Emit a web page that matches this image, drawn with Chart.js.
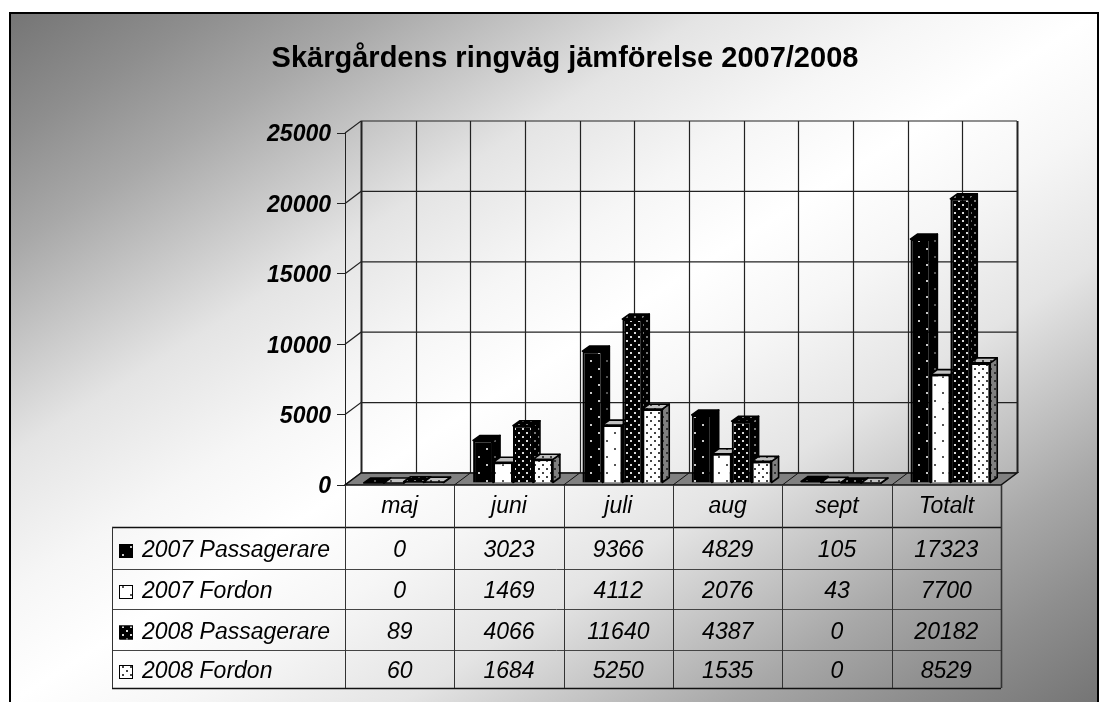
<!DOCTYPE html>
<html>
<head>
<meta charset="utf-8">
<style>
html,body{margin:0;padding:0;background:#fff;overflow:hidden;width:1105px;height:702px}
#frame{position:absolute;left:9px;top:12px;width:1086px;height:688px;border:2px solid #000;
background:linear-gradient(to bottom right,#757575 0%,#8e8e8e 9%,#a8a8a8 17%,#bcbcbc 22%,#e4e4e4 32%,#f6f6f6 42%,#ffffff 50%,#f6f6f6 58%,#e4e4e4 68%,#bcbcbc 78%,#a8a8a8 83%,#8e8e8e 91%,#757575 100%)}
#wrap{position:absolute;left:0;top:0;width:1105px;height:702px}
canvas{display:block}
</style>
<script src="https://cdn.jsdelivr.net/npm/chart.js@4"></script>
</head>
<body>
<div id="frame"></div>
<div id="wrap"><canvas id="c" width="1105" height="702"></canvas></div>
<script>
const titleText = 'Skärgårdens ringväg jämförelse 2007/2008';
const categories = ['maj','juni','juli','aug','sept','Totalt'];
const seriesNames = ['2007 Passagerare','2007 Fordon','2008 Passagerare','2008 Fordon'];
const pass2007 = [0,3023,9366,4829,105,17323];
const ford2007 = [0,1469,4112,2076,43,7700];
const pass2008 = [89,4066,11640,4387,0,20182];
const ford2008 = [60,1684,5250,1535,0,8529];
const allSeries = [pass2007,ford2007,pass2008,ford2008];

const FONT = '"Liberation Sans", Arial, sans-serif';
Chart.defaults.font.family = FONT;
Chart.defaults.color = '#000';

function dots(size,bg,dot,r){
  const t=document.createElement('canvas');t.width=t.height=size;
  const g=t.getContext('2d');g.fillStyle=bg;g.fillRect(0,0,size,size);
  g.fillStyle=dot;
  g.fillRect(2,2,r,r);g.fillRect(2+size/2,2+size/2,r,r);
  return document.createElement('canvas').getContext('2d').createPattern(t,'repeat');
}
const faces=[
 {front:dots(16,'#000','#c8c8c8',2),side:dots(16,'#000','#555',2),top:dots(16,'#000','#555',2)},
 {front:dots(16,'#fff','#555',2),side:dots(16,'#808080','#333',2),top:dots(16,'#c0c0c0','#555',2)},
 {front:dots(8,'#000','#d8d8d8',2),side:dots(8,'#000','#777',2),top:dots(8,'#000','#777',2)},
 {front:dots(8,'#fff','#444',2),side:dots(8,'#808080','#333',2),top:dots(8,'#c0c0c0','#444',2)}
];
const WALL_DX=16, WALL_DY=12, BAR_DX=7, BAR_DY=5, SHIFT_X=4, SHIFT_Y=-2;

const wallPlugin={
 id:'wall',
 beforeDatasetsDraw(chart){
  const {ctx,chartArea:a,scales:{y}}=chart;
  ctx.save();
  ctx.strokeStyle='#222';ctx.lineWidth=1.2;
  y.ticks.forEach(t=>{
    const py=y.getPixelForValue(t.value);
    ctx.beginPath();ctx.moveTo(a.left,py);ctx.lineTo(a.left+WALL_DX,py-WALL_DY);ctx.lineTo(a.right+WALL_DX,py-WALL_DY);ctx.stroke();
  });
  const top=a.top-WALL_DY, bot=a.bottom-WALL_DY, n=categories.length;
  for(let i=0;i<=n*2;i++){
    const px=Math.round(a.left+(a.right-a.left)*i/(n*2)+WALL_DX)+.5;
    ctx.lineWidth=(i===0||i===n*2)?2:1.2;
    ctx.beginPath();ctx.moveTo(px,top);ctx.lineTo(px,bot);ctx.stroke();
  }
  ctx.lineWidth=1.5;ctx.strokeStyle='#111';ctx.fillStyle='#808080';
  ctx.beginPath();ctx.moveTo(a.left,a.bottom);ctx.lineTo(a.right,a.bottom);
  ctx.lineTo(a.right+WALL_DX,bot);ctx.lineTo(a.left+WALL_DX,bot);ctx.closePath();ctx.fill();ctx.stroke();
  for(let i=1;i<n;i++){
    const px=a.left+(a.right-a.left)*i/n;
    ctx.lineWidth=1;ctx.beginPath();ctx.moveTo(px,a.bottom);ctx.lineTo(px+WALL_DX,bot);ctx.stroke();
  }
  ctx.restore();
 }
};

const depthPlugin={
 id:'depth',
 beforeDatasetsDraw(chart){
  const ctx=chart.ctx;
  seriesNames.forEach((_,s)=>{
    const meta=chart.getDatasetMeta(s),f=faces[s];
    ctx.save();ctx.translate(SHIFT_X,SHIFT_Y);
    ctx.strokeStyle='#000';ctx.lineWidth=1.6;ctx.lineJoin='round';
    meta.data.forEach(b=>{
      const l=b.x-b.width/2,r=b.x+b.width/2,t=b.y,bs=b.base;
      ctx.fillStyle=f.side;ctx.beginPath();ctx.moveTo(r,t);ctx.lineTo(r+BAR_DX,t-BAR_DY);ctx.lineTo(r+BAR_DX,bs-BAR_DY);ctx.lineTo(r,bs);ctx.closePath();ctx.fill();ctx.stroke();
      ctx.fillStyle=f.top;ctx.beginPath();ctx.moveTo(l,t);ctx.lineTo(l+BAR_DX,t-BAR_DY);ctx.lineTo(r+BAR_DX,t-BAR_DY);ctx.lineTo(r,t);ctx.closePath();ctx.fill();ctx.stroke();
    });
    meta.controller.draw();
    ctx.restore();
  });
  return false;
 }
};

const tablePlugin={
 id:'table',
 afterDraw(chart){
  const {ctx,chartArea:a,scales:{x}}=chart;
  const rows=[527,569,609,650,688], tableLeft=112, n=categories.length;
  ctx.save();
  rows.forEach((ry,i)=>{
    ctx.lineWidth=(i===0||i===rows.length-1)?1.5:1;
    ctx.strokeStyle=(i===0||i===rows.length-1)?'#111':'#444';
    ctx.beginPath();ctx.moveTo(tableLeft,ry+.5);ctx.lineTo(a.right,ry+.5);ctx.stroke();
  });
  ctx.strokeStyle='#333';ctx.lineWidth=1;
  ctx.beginPath();ctx.moveTo(tableLeft+.5,rows[0]);ctx.lineTo(tableLeft+.5,rows[4]);ctx.stroke();
  for(let i=0;i<=n;i++){
    const px=Math.round(a.left+(a.right-a.left)*i/n)+.5;
    ctx.lineWidth=i===n?1.6:1;
    ctx.beginPath();ctx.moveTo(px,a.bottom);ctx.lineTo(px,rows[4]);ctx.stroke();
  }
  ctx.textBaseline='middle';
  ctx.font='italic 23px '+FONT;
  seriesNames.forEach((name,s)=>{
    const cy=(rows[s]+rows[s+1])/2+2;
    ctx.fillStyle=faces[s].front;ctx.fillRect(119,cy-6,14,14);
    ctx.lineWidth=1;ctx.strokeStyle='#000';ctx.strokeRect(119.5,cy-5.5,13,13);
    ctx.fillStyle='#000';ctx.textAlign='left';
    ctx.fillText(name,142,cy+1);
    ctx.textAlign='center';
    allSeries[s].forEach((v,i)=>ctx.fillText(String(v),x.getPixelForTick(i),cy+1));
  });
  ctx.restore();
 }
};

new Chart(document.getElementById('c'),{
 type:'bar',
 data:{labels:categories,datasets:seriesNames.map((name,s)=>({
   label:name,data:allSeries[s],backgroundColor:faces[s].front,borderColor:'#000',borderWidth:2,
   categoryPercentage:.73,barPercentage:1,xAxisID:'x',yAxisID:'y'
 }))},
 options:{
  responsive:false,animation:false,
  layout:{padding:{left:25,right:0,top:0,bottom:0}},
  plugins:{
   legend:{display:false},tooltip:{enabled:false},
   title:{display:true,text:titleText,color:'#000',font:{size:29,weight:'bold',family:FONT,lineHeight:1.2},padding:{top:42,bottom:56.2}}
  },
  scales:{
   x:{grid:{display:false},border:{display:false},
      ticks:{font:{size:23,style:'italic',family:FONT},padding:0,color:'#000',maxRotation:0,autoSkip:false},
      afterFit(s){s.height=217;}},
   y:{min:0,max:25000,position:'left',
      grid:{drawOnChartArea:false,tickLength:8,color:'#222'},
      border:{color:'#222'},
      ticks:{stepSize:5000,padding:6,labelOffset:2,color:'#000',callback:v=>String(v),font:{size:23,style:'italic',weight:'bold',family:FONT}},
      afterFit(s){s.width=320;}},
   y2:{axis:'y',position:'right',min:0,max:25000,grid:{display:false},border:{display:false},ticks:{display:false},
      afterFit(s){s.width=104;}}
  }
 },
 plugins:[wallPlugin,depthPlugin,tablePlugin]
});
</script>
</body>
</html>
